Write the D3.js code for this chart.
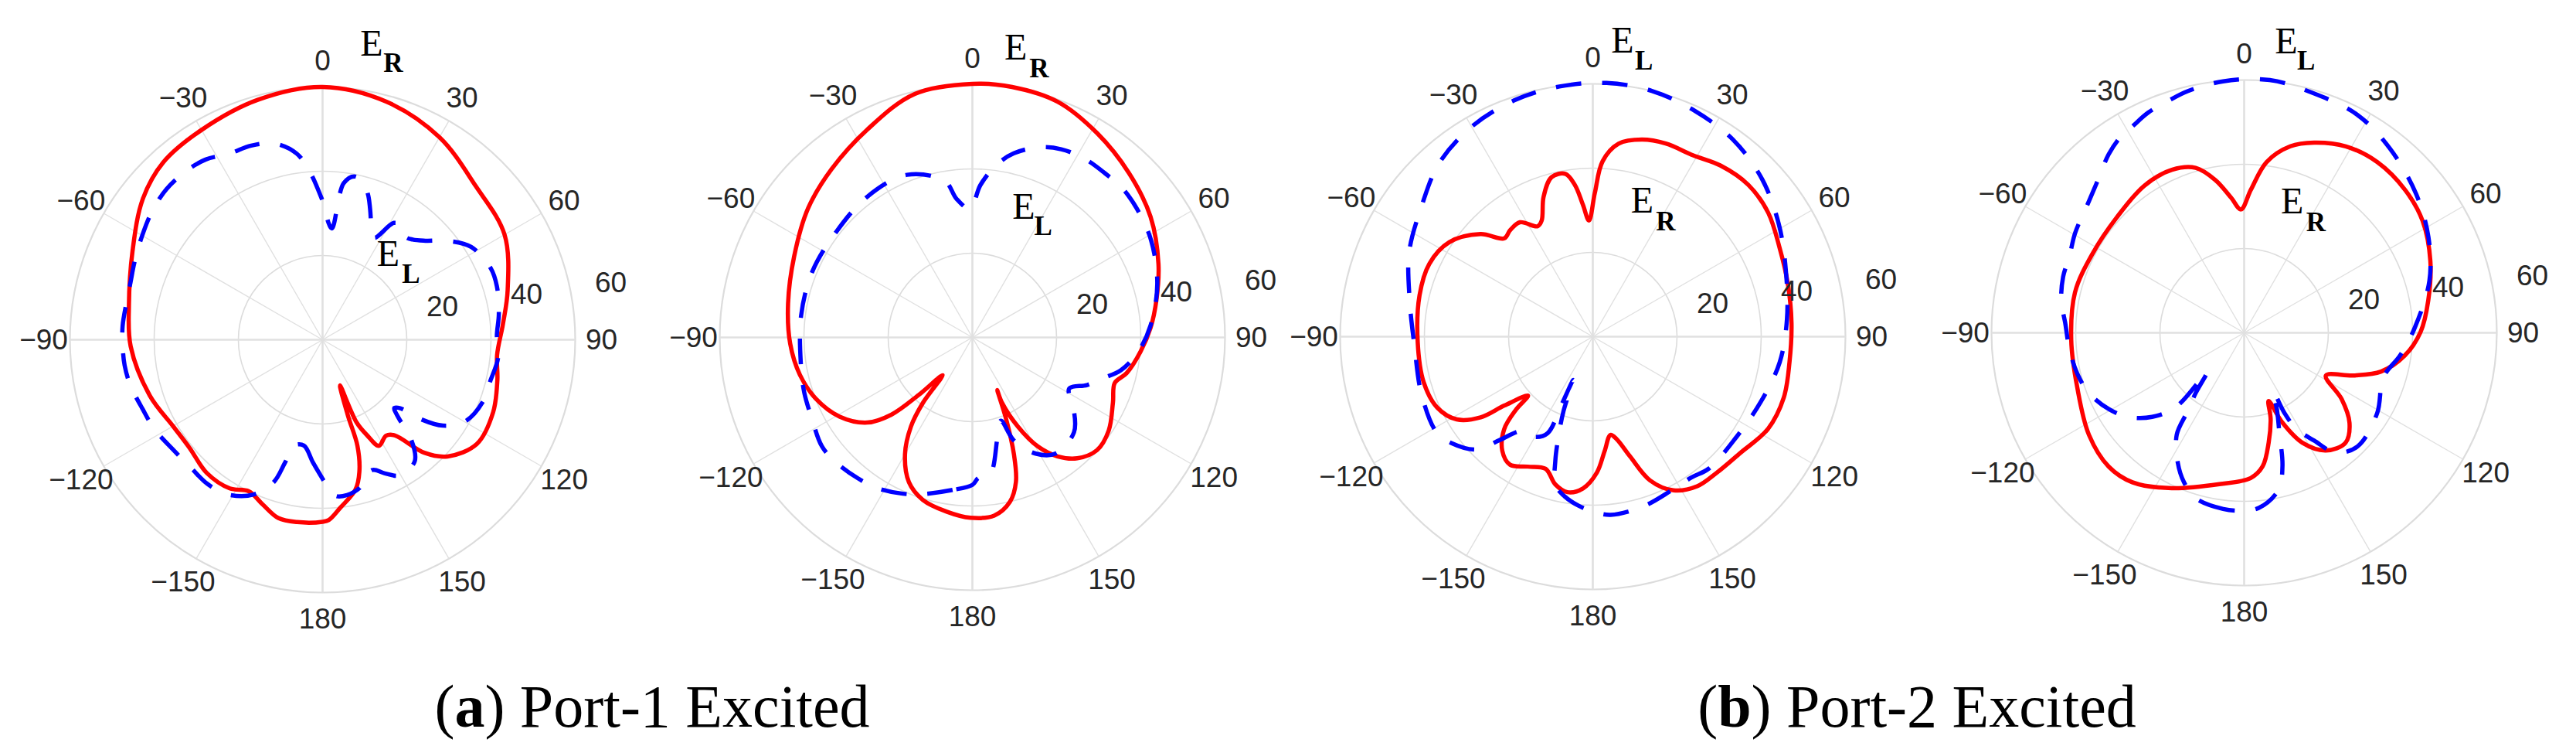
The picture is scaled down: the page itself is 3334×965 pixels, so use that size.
<!DOCTYPE html>
<html>
<head>
<meta charset="utf-8">
<script src="https://cdn.jsdelivr.net/npm/d3@7"></script>
<style>
  html, body { margin: 0; padding: 0; background: #ffffff; }
  svg { display: block; }
</style>
</head>
<body>
<svg id="chart" width="3334" height="965"></svg>
<script>
// ---------------- DATA ----------------
const angleTicks  = [0, 30, 60, 90, 120, 150, 180, -150, -120, -90, -60, -30];
const angleLabels = ["0", "30", "60", "90", "120", "150", "180", "\u2212150", "\u2212120", "\u221290", "\u221260", "\u221230"];
const radialTicks = [20, 40, 60];
const radialLabels = ["20", "40", "60"];
const radialMax = 60;

// [angle (deg, clockwise from top), magnitude]
const p1Red = [[-180,43.2],[-172,43.7],[-166,43.6],[-160,41.6],[-154,40.0],[-148,41.6],[-139,41.9],[-129,40.7],[-120,41],[-108,43.1],[-92,45.6],[-80,46.7],[-65,49.8],[-52,54.2],[-42,56.6],[-30,57.5],[-15,59],[0,60],[15,58.5],[30,55.5],[45,51.5],[60,49.9],[75,45.5],[85,43],[95,41.6],[103,42.6],[113,44],[124,44.2],[133,40.6],[138,36.1],[143,28.4],[146.5,27.3],[152,28.5],[155,25],[157.6,21.3],[159.1,11.6],[161.5,19],[161.8,26.5],[164.4,32.5],[167.6,36.4],[174,40.1],[178,42.8]];

const p1Blue = [[-180,33],[-175.5,29.2],[-170,25.5],[-165,26],[-163,30.5],[-161,35.8],[-156,40.2],[-148.4,43.1],[-141.5,43.8],[-134.6,43.6],[-126.7,44],[-118,45.2],[-111,45.8],[-103.3,46.9],[-97.4,47.4],[-91.7,47.5],[-86,47.6],[-79,47.4],[-73.4,47.6],[-67.7,48.3],[-59.8,49.5],[-52.9,50.7],[-46,51.5],[-39,51.5],[-33,51],[-26.6,49.4],[-20.2,49.1],[-13.6,47.9],[-7.9,44.6],[-4.1,39.6],[-1.5,35.3],[0.9,31.5],[2.9,27.8],[4.8,26.5],[7.7,37.5],[11,39.5],[14.5,38.6],[17.5,36],[20,33],[24.4,28.4],[27,27.2],[31.4,32.5],[34.5,33],[38.9,31.4],[42,32],[46.1,33.9],[51.6,37.8],[58,41.6],[67,43.4],[72.9,43.3],[81.7,42.3],[88.7,41.4],[95.8,41.9],[104,41],[111.2,40.8],[119.8,39],[125.5,35.1],[129.1,29.7],[131.4,24.6],[133.5,23.5],[135.9,26.1],[137.7,30.7],[142.8,36.2],[150.5,37],[155,35],[159.2,33.1],[166.1,36.3],[171,37.3],[175.1,37.2],[178,35]];

const p2Red = [[-179.4,42.8],[-171.6,41.8],[-163,40.3],[-156.3,37.5],[-150,32],[-145.4,25.7],[-142.9,19.5],[-141.7,11.4],[-137,18.6],[-133.6,26.6],[-129,32.1],[-120.8,36.7],[-111.4,39.9],[-102.3,41.9],[-91.9,43.3],[-79.6,44.5],[-65.5,46.5],[-51.9,49.6],[-39.9,52.1],[-26.8,55.3],[-13.3,59.4],[0,60.2],[9,60.2],[19.9,59.5],[31.5,56.8],[43.6,53.9],[55.9,51.1],[68.5,47.5],[78.5,44.6],[86.8,42.4],[94.7,40.1],[103,37.6],[107.7,35.5],[114.9,36.8],[124.3,39.2],[132.1,39.9],[139,38],[144.4,34.7],[149,30.2],[152.9,23.8],[155.6,17],[154.7,13.8],[157.5,20.9],[160.4,29.4],[163.2,35.8],[167.1,40],[173,42.6]];

const p2Blue = [[-180,35],[-172.6,36.5],[-162.4,39],[-156,40.6],[-147.7,42.3],[-140.8,43.1],[-132.4,43.9],[-125.9,44.1],[-116.8,42.7],[-108,42],[-98.5,41.2],[-82.8,41],[-67.8,41.1],[-52.5,40.9],[-36.7,41.7],[-21.9,41.6],[-10,37.7],[-6.5,33.1],[-1,30.5],[3,36.2],[7.9,41.3],[12.7,44.8],[19.5,47.9],[25.3,49.4],[32.3,50.1],[38.9,50.1],[45.4,50.2],[51.9,49.6],[61.5,48.3],[73.9,45.7],[86.2,42.4],[95,39.5],[102.5,36.1],[108,32],[112.5,29.5],[117.9,26],[124.5,29.1],[133,33],[144.4,33.9],[151.4,31.4],[158,26.4],[161.1,20.9],[166.1,24.7],[172.6,32.7],[177.6,33.4]];

const p3Red = [[-176.3,36.1],[-170.7,37.4],[-165.8,36.2],[-160.3,33.3],[-153.4,34.5],[-147.1,36.2],[-141.6,34.6],[-136.2,30.4],[-133.5,25.1],[-132.3,20.8],[-127.9,26.6],[-125.7,32.8],[-121.3,37.8],[-114.5,40.6],[-105,41.6],[-91.9,41.6],[-76.6,42.3],[-66,42.5],[-56.7,40.8],[-47.6,36.1],[-42,31.4],[-37.9,32],[-32.5,32.2],[-26.6,29.3],[-23.8,30.1],[-19.4,35.2],[-14.5,39.1],[-9.6,39.2],[-6.7,36.2],[-4.3,31.4],[-1.9,27.6],[0.8,34.1],[3.2,41.7],[7.6,46.2],[14,48.2],[20.7,49],[29,49.2],[36.8,50.7],[45.7,51.6],[54.7,51],[64.7,49.1],[74.7,48],[86,47.3],[97.4,47.1],[107.7,47.6],[117.8,47],[128.2,44.6],[137.6,43.7],[145.1,43.3],[152.3,41.2],[158.3,36.7],[162.7,29.8],[167,24.9],[169.8,23.7],[174.1,27.3],[178.3,32.3]];

const p3Blue = [[-180,41.5],[-175.3,40.3],[-170,38.5],[-165.8,36.2],[-163.2,30.8],[-161,25],[-158.5,19],[-155.6,11.3],[-155.3,18],[-154.9,25.3],[-150,27.5],[-143.1,28],[-138,33],[-134.4,38.3],[-127,42],[-121.5,43.5],[-108.4,42.9],[-93.2,42.4],[-78.5,44.4],[-65.3,48],[-53.4,50.9],[-41.6,55],[-29.7,57.6],[-18.4,59.1],[-7.6,59.9],[3.1,60.3],[13.5,60],[24.4,58.8],[35.5,57.4],[47.1,54.9],[58.9,51.6],[70.9,48.5],[84.8,46.3],[97.8,44.8],[111.1,42.8],[124.9,41.6],[138.6,41.7],[145.1,40.8],[153,41],[163.2,42],[174.3,42.5]];

const p4Red = [[-170.7,36.4],[-155,40.7],[-143.2,44.3],[-134.6,45.2],[-123.3,44.1],[-108.1,41.7],[-92.4,41.1],[-76.6,41.3],[-62.2,40.6],[-47.9,40.8],[-34.2,42.2],[-23.9,42.3],[-16.4,40.8],[-10.7,36.9],[-5.5,32.2],[-1.5,29.3],[2.7,34],[7.5,40.9],[13.9,45.6],[20.2,48.1],[28.6,50.4],[38,51.4],[48.4,51.1],[58,50],[68.9,47.4],[80,44.4],[89.7,41.9],[98.1,38.5],[105.8,33.8],[111.3,27.9],[117.6,21.9],[124.2,28],[130.5,32.9],[137.3,35.5],[145.2,34],[152.1,29.5],[156.9,23.2],[160.3,17.2],[162.9,21.4],[167.4,26.7],[172.1,32],[177.4,34.5]];

const p4Blue = [[-179,42.2],[-173.2,42.1],[-163.6,40.9],[-158,38.2],[-152.9,34.6],[-146.5,29],[-144.2,22.9],[-141.2,18.4],[-136.5,12.7],[-137.4,23.9],[-132.4,29.6],[-126,34],[-119.4,36.9],[-111.3,39.5],[-103.7,40.8],[-94.9,41.7],[-87.2,42.5],[-80,44.1],[-72.8,45],[-66.3,45.3],[-59.5,46.6],[-51,48],[-44.3,50],[-37.2,53.2],[-32.2,55],[-28.5,55.7],[-23.6,57],[-18.2,57.9],[-13.2,58.9],[-4.8,59.9],[5.8,60.3],[16.1,59.2],[27.5,58.3],[38.3,55.8],[51,52.5],[62.6,49.3],[74.3,45.7],[88.4,40.5],[98,37.5],[107.8,34.7],[121.1,36.9],[135.1,38.1],[142.6,35.8],[147,30.5],[151.5,25.9],[153.3,21.3],[153.5,15.5],[157,20],[160.5,25],[164,33],[167.7,38.2],[175.2,41.7]];

const captionA = ["(", "a", ") Port-1 Excited"];
const captionB = ["(", "b", ") Port-2 Excited"];

// ---------------- LAYOUT ----------------
const R = 327;
const panels = [
  { cx: 417.5,  cy: 439.5, red: p1Red, blue: p1Blue,
    top:   { sub: "R", ex: 481,    ey: 72,  sx: 509,    sy: 92.5 },
    inner: { sub: "L", ex: 502.5,  ey: 343.5, sx: 532,  sy: 365.5 } },
  { cx: 1258.5, cy: 436.5, red: p2Red, blue: p2Blue,
    top:   { sub: "R", ex: 1314.6, ey: 77,  sx: 1345,   sy: 100 },
    inner: { sub: "L", ex: 1324.8, ey: 283.4, sx: 1350.3, sy: 304 } },
  { cx: 2061.5, cy: 435.5, red: p3Red, blue: p3Blue,
    top:   { sub: "L", ex: 2099.8, ey: 68,  sx: 2127.8, sy: 90 },
    inner: { sub: "R", ex: 2125.3, ey: 275, sx: 2155.9, sy: 298 } },
  { cx: 2904.5, cy: 430.5, red: p4Red, blue: p4Blue,
    top:   { sub: "L", ex: 2959,   ey: 69,  sx: 2984.6, sy: 90 },
    inner: { sub: "R", ex: 2966.7, ey: 276, sx: 2997.3, sy: 299 } }
];

const svg = d3.select("#chart");
svg.append("rect").attr("width", 3334).attr("height", 965).attr("fill", "#ffffff");

const rScale = d3.scaleLinear().domain([0, radialMax]).range([0, R]);
const rad = d => d * Math.PI / 180;

const line = d3.lineRadial()
  .angle(d => rad(d[0]))
  .radius(d => rScale(d[1]))
  .curve(d3.curveCatmullRomClosed.alpha(0.5));

panels.forEach(p => {
  const g = svg.append("g").attr("transform", `translate(${p.cx},${p.cy})`);

  // grid circles
  g.selectAll("circle.grid").data(radialTicks).enter().append("circle")
    .attr("r", d => rScale(d))
    .attr("fill", "none")
    .attr("stroke", "#dcdcdc")
    .attr("stroke-width", d => d === radialMax ? 2.2 : 1.6);

  // spokes
  g.selectAll("line.spoke").data(angleTicks).enter().append("line")
    .attr("x1", 0).attr("y1", 0)
    .attr("x2", d => rScale(radialMax) * Math.sin(rad(d)))
    .attr("y2", d => -rScale(radialMax) * Math.cos(rad(d)))
    .attr("stroke", "#e0e0e0")
    .attr("stroke-width", d => (d % 90 === 0) ? 2.6 : 1.4);

  // curves
  g.append("path").datum(p.red)
    .attr("d", line)
    .attr("fill", "none")
    .attr("stroke", "#ff0000")
    .attr("stroke-width", 5.5)
    .attr("stroke-linejoin", "round");

  g.append("path").datum(p.blue)
    .attr("d", line)
    .attr("fill", "none")
    .attr("stroke", "#0000ff")
    .attr("stroke-width", 5.5)
    .attr("stroke-dasharray", "33,27");

  // angle labels
  g.selectAll("text.ang").data(angleTicks).enter().append("text")
    .attr("x", d => (rScale(radialMax) + 34) * Math.sin(rad(d)))
    .attr("y", d => -(rScale(radialMax) + 34) * Math.cos(rad(d)))
    .attr("text-anchor", "middle")
    .attr("dominant-baseline", "central")
    .attr("font-family", "'Liberation Sans', Arial, sans-serif")
    .attr("font-size", 37)
    .attr("fill", "#262626")
    .text((d, i) => angleLabels[i]);

  // radial labels
  g.selectAll("text.rad").data(radialTicks).enter().append("text")
    .attr("x", d => rScale(d) + 46)
    .attr("y", d => -(0.14 * rScale(d) + 28))
    .attr("text-anchor", "middle")
    .attr("dominant-baseline", "central")
    .attr("font-family", "'Liberation Sans', Arial, sans-serif")
    .attr("font-size", 37)
    .attr("fill", "#262626")
    .text((d, i) => radialLabels[i]);

  // E labels
  [p.top, p.inner].forEach(lab => {
    svg.append("text")
      .attr("x", lab.ex).attr("y", lab.ey)
      .attr("text-anchor", "middle")
      .attr("font-family", "'Liberation Serif', 'Times New Roman', serif")
      .attr("font-size", 48)
      .attr("fill", "#000")
      .text("E");
    svg.append("text")
      .attr("x", lab.sx).attr("y", lab.sy)
      .attr("text-anchor", "middle")
      .attr("font-family", "'Liberation Serif', 'Times New Roman', serif")
      .attr("font-size", 35)
      .attr("font-weight", "bold")
      .attr("fill", "#000")
      .text(lab.sub);
  });
});

// captions
function caption(parts, x) {
  const t = svg.append("text")
    .attr("x", x).attr("y", 940)
    .attr("text-anchor", "middle")
    .attr("font-family", "'Liberation Serif', 'Times New Roman', serif")
    .attr("font-size", 78)
    .attr("fill", "#000");
  t.append("tspan").text(parts[0]);
  t.append("tspan").attr("font-weight", "bold").text(parts[1]);
  t.append("tspan").text(parts[2]);
}
caption(captionA, 844);
caption(captionB, 2481);
</script>
</body>
</html>
